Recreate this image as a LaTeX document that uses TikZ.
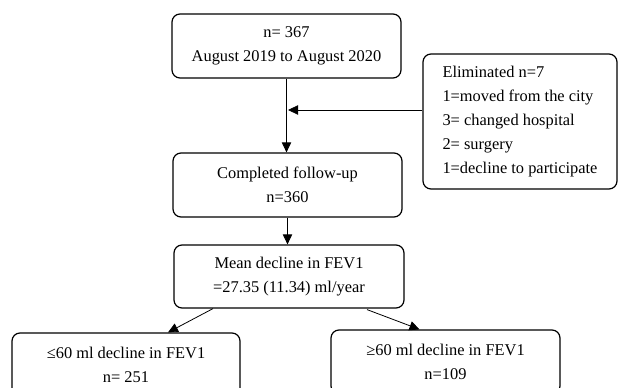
\documentclass[tikz,border=0pt]{standalone}
\usepackage{fontspec}
\setmainfont{Liberation Serif}
\usetikzlibrary{calc}
\usetikzlibrary{positioning,arrows.meta}

\begin{document}
\begin{tikzpicture}[x=0.75pt, y=-0.75pt, >={Triangle[length=7.5pt,width=7pt]},
    every node/.style={font=\fontsize{12.3}{18}\selectfont}]
  % rounded boxes of the flow chart
  \tikzset{block/.style={draw, line width=0.9pt, rounded corners=6pt, minimum height=48pt, align=center, inner sep=0pt},
           link/.style={->, line width=0.6pt}}
  \useasboundingbox (0,0) rectangle (619,388);
  % main column
  \node[block, minimum width=171.75pt] (enrolled) at (286.5,46) {n= 367\\August 2019 to August 2020};
  \node[block, minimum width=171.75pt] (followup) at (287.5,185) {Completed follow-up\\n=360};
  \node[block, minimum width=172.5pt, minimum height=47.25pt] (fev) at (289,276.5) {Mean decline in FEV1\\=27.35 (11.34) ml/year};
  % side box with the losses
  \node[block, minimum width=145.5pt, minimum height=101.25pt, align=left] (elim) at (520,121.5)
    {Eliminated n=7\\1=moved from the city\\3= changed hospital\\2= surgery\\1=decline to participate};
  % the two groups at the bottom
  \node[block, minimum width=171pt] (low) at (126,365) {≤60 ml decline in FEV1\\n= 251};
  \node[block, minimum width=171.75pt] (high) at (445.5,362) {≥60 ml decline in FEV1\\n=109};

  % arrows
  \coordinate (join) at (288,110);
  \draw[link] (enrolled.south) -- (enrolled.south |- followup.north);
  \draw[link] (elim.west |- join) -- (join);
  \draw[link] (followup.south) -- (followup.south |- fev.north);
  \draw[link] ($(fev.south)+(-76,0)$) -- ($(low.north)+(42,0)$);
  \draw[link] ($(fev.south)+(78,1)$) -- ($(high.north)+(-26,0)$);
\end{tikzpicture}
\end{document}
